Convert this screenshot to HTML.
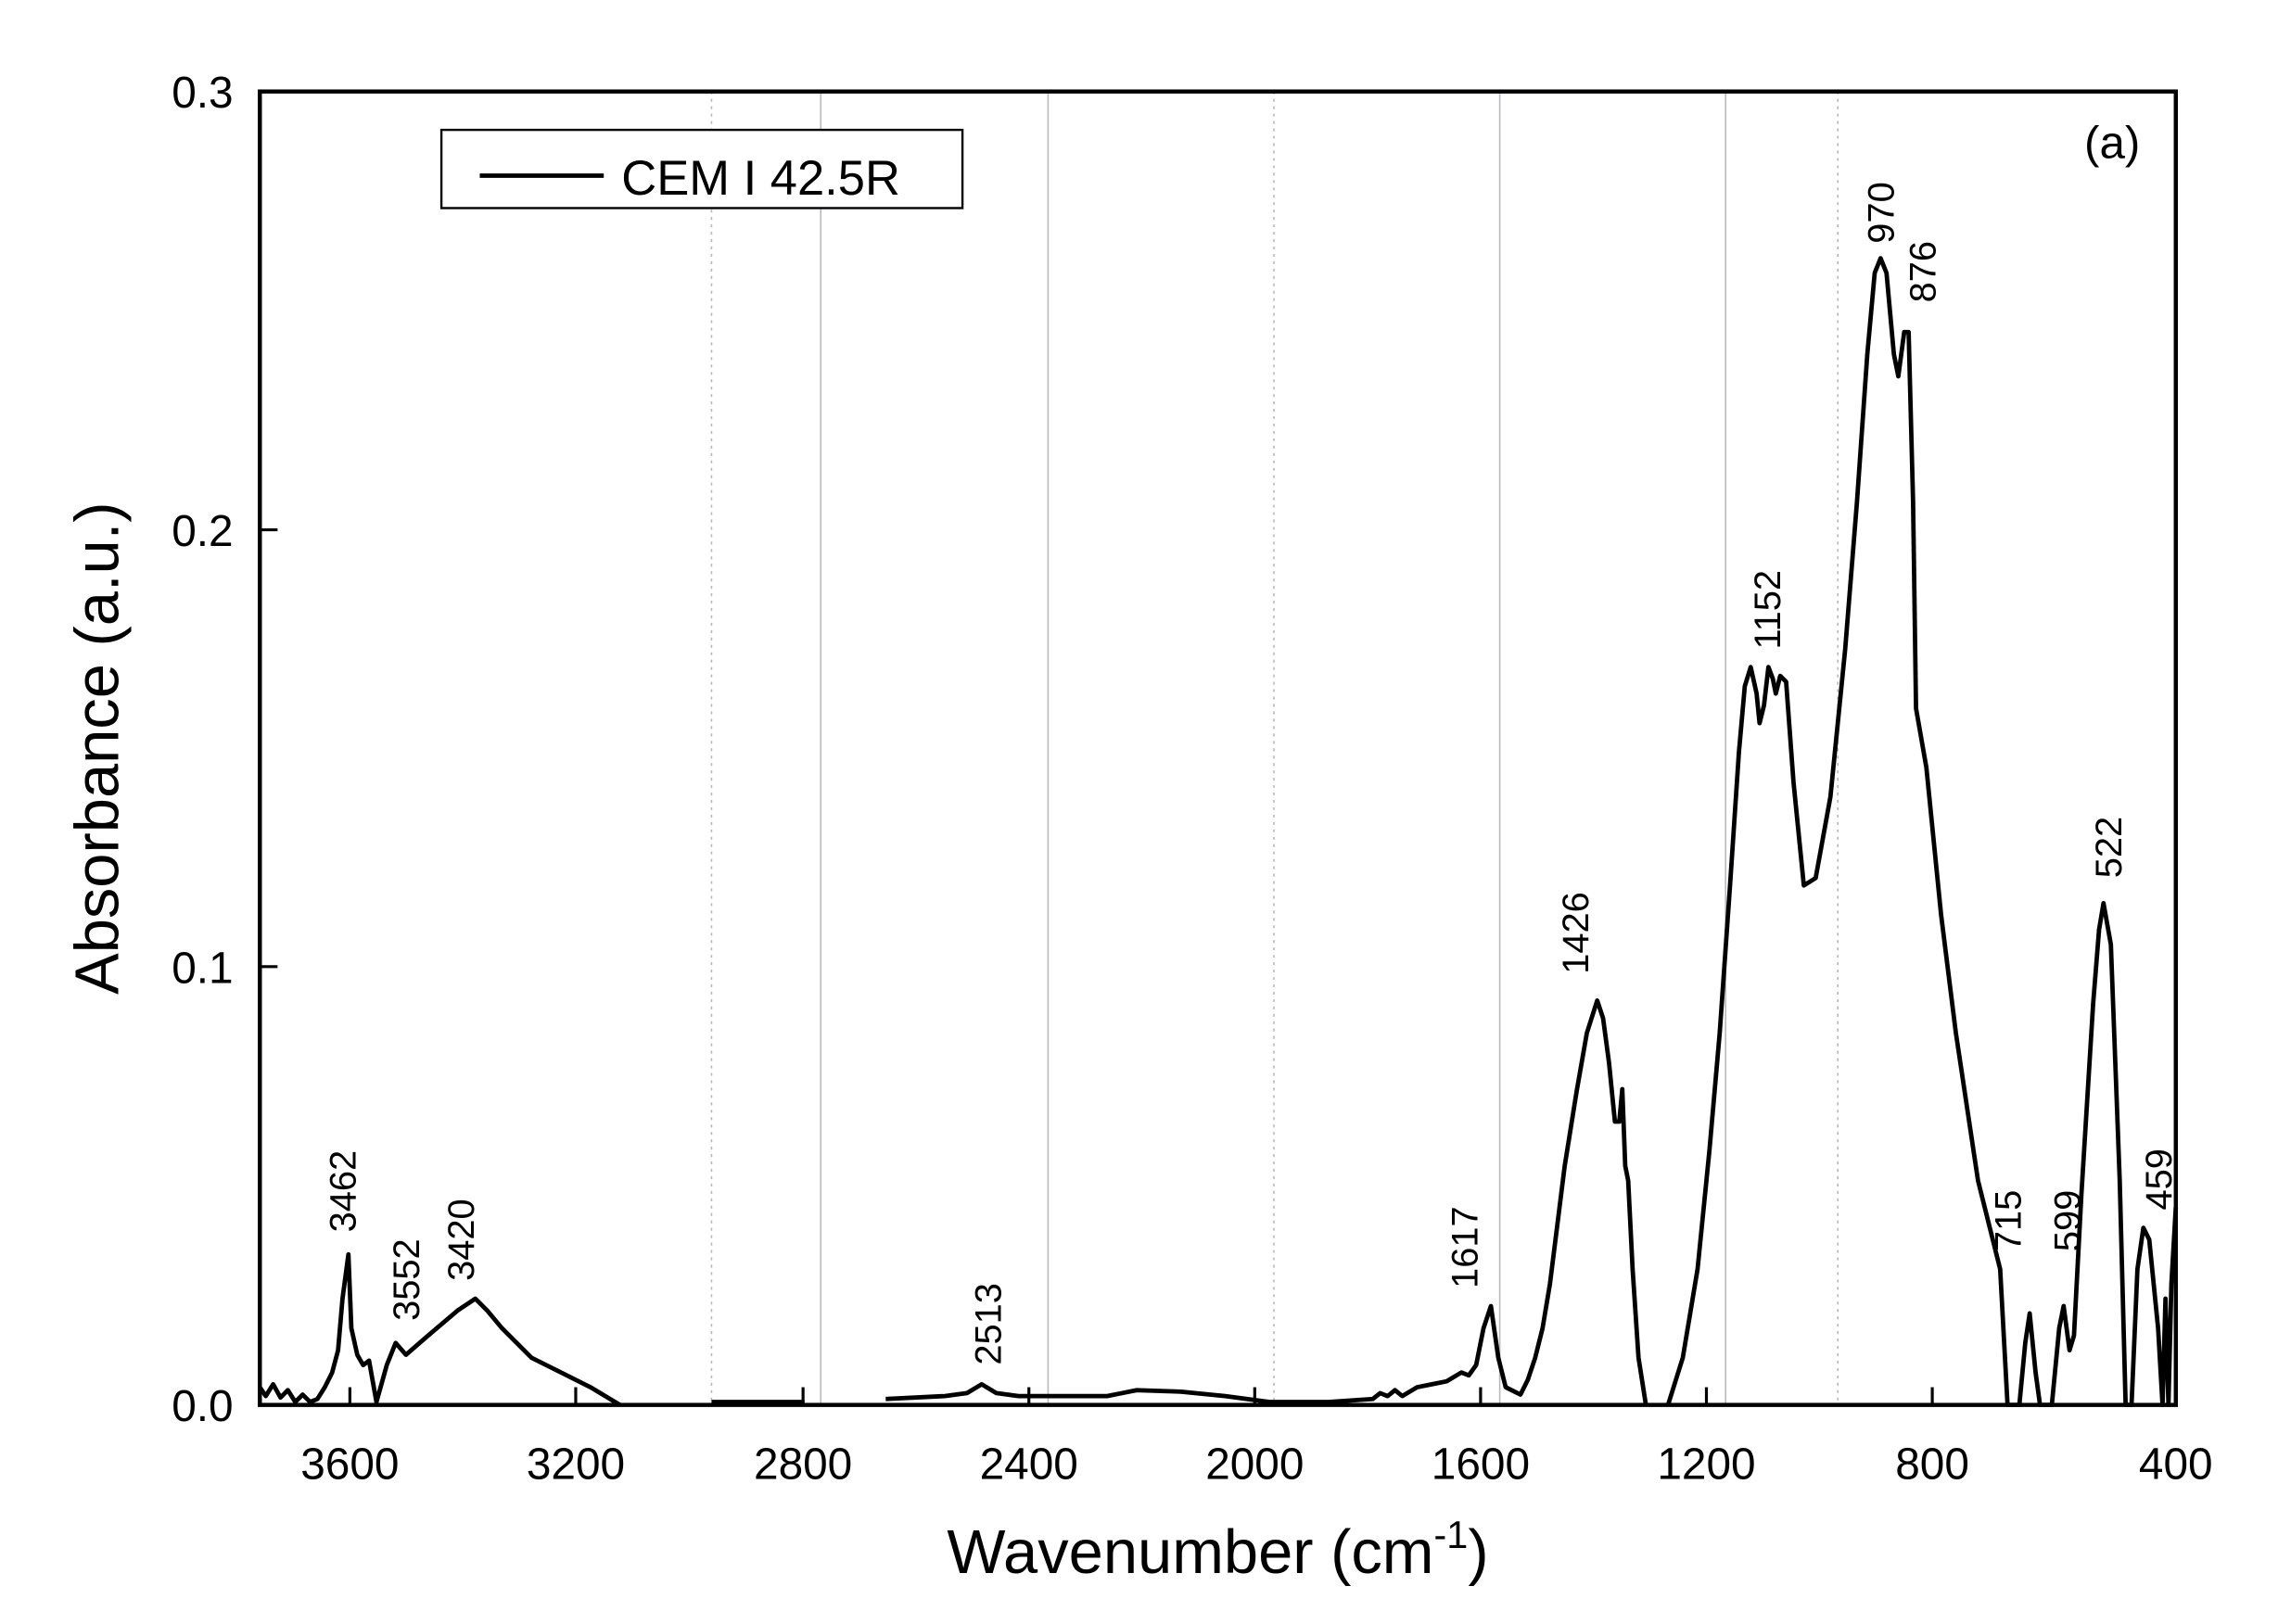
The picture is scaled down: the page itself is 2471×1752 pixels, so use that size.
<!DOCTYPE html>
<html><head><meta charset="utf-8"><style>html,body{margin:0;padding:0;background:#fff}svg{display:block}</style></head>
<body>
<svg width="2471" height="1752" viewBox="0 0 1552 1100.45" xmlns="http://www.w3.org/2000/svg" font-family="Liberation Sans, Arial, sans-serif">
<rect width="1552" height="1100.45" fill="#fff"/>
<g stroke="#b8b8c0" stroke-width="1">
<line x1="482" y1="62" x2="482" y2="952" stroke-dasharray="2,3"/>
<line x1="556" y1="62" x2="556" y2="952"/>
<line x1="710" y1="62" x2="710" y2="952"/>
<line x1="863" y1="62" x2="863" y2="952" stroke-dasharray="2,3"/>
<line x1="1016" y1="62" x2="1016" y2="952"/>
<line x1="1169" y1="62" x2="1169" y2="952"/>
<line x1="1245" y1="62" x2="1245" y2="952" stroke-dasharray="2,3"/>
</g>
<g fill="none" stroke="#000" stroke-width="3" stroke-linejoin="round">
<polyline points="176,940 180,946 185,938 190,947 195,942 200,950 205,945 210,950 215,948 220,940 225,930 229,915 232,880 236,850 238,900 242,918 246,925 250,922 255,950 262,925 268,910 275,918 290,905 310,888 322,880 330,888 340,900 360,920 380,930 400,940 420,952"/>
<polyline points="482,950 545,950"/>
<polyline points="600,948 640,946 655,944 665,938 675,944 690,946 750,946 760,944 770,942 800,943 830,946 860,950 900,950 930,948 935,944 940,946 945,942 950,946 960,940 970,938 980,936 990,930 995,932 1000,925 1005,900 1010,885 1015,920 1020,940 1030,945 1035,935 1040,920 1045,900 1050,870 1060,790 1068,740 1075,700 1082,678 1086,690 1090,720 1094,760 1097,760 1099,738 1101,790 1103,800 1106,860 1110,920 1115,952"/>
<polyline points="1130,952 1140,920 1150,860 1158,780 1165,700 1172,600 1178,510 1182,465 1186,452 1190,470 1192,490 1195,478 1198,452 1201,460 1203,470 1206,458 1210,462 1215,530 1222,600 1230,595 1240,540 1250,440 1258,340 1265,240 1270,185 1274,175 1278,185 1283,240 1286,255 1290,225 1293,225 1296,340 1298,480 1305,520 1315,620 1325,700 1340,800 1355,860 1360,952 1368,952 1372,910 1375,890 1379,930 1382,952 1390,952 1395,900 1398,885 1402,915 1405,905 1410,810 1418,680 1422,630 1425,612 1430,640 1436,800 1440,952 1444,952 1448,860 1452,832 1456,840 1462,900 1465,952 1467,880 1469,952 1471,870 1474,818"/>
</g>
<rect x="176" y="62" width="1298" height="890" fill="none" stroke="#000" stroke-width="2.8"/>
<g stroke="#000" stroke-width="2">
<line x1="237" y1="952" x2="237" y2="940"/><line x1="390" y1="952" x2="390" y2="940"/>
<line x1="544" y1="952" x2="544" y2="940"/><line x1="697" y1="952" x2="697" y2="940"/>
<line x1="850" y1="952" x2="850" y2="940"/><line x1="1003" y1="952" x2="1003" y2="940"/>
<line x1="1156" y1="952" x2="1156" y2="940"/><line x1="1309" y1="952" x2="1309" y2="940"/>
<line x1="176" y1="655" x2="188" y2="655"/><line x1="176" y1="359" x2="188" y2="359"/>
</g>
<g font-size="30" text-anchor="middle" fill="#000">
<text x="237" y="1002">3600</text><text x="390" y="1002">3200</text><text x="544" y="1002">2800</text>
<text x="697" y="1002">2400</text><text x="850" y="1002">2000</text><text x="1003" y="1002">1600</text>
<text x="1156" y="1002">1200</text><text x="1309" y="1002">800</text><text x="1474" y="1002">400</text>
</g>
<g font-size="30" text-anchor="end">
<text x="158" y="963">0.0</text><text x="158" y="666">0.1</text><text x="158" y="370">0.2</text><text x="158" y="73">0.3</text>
</g>
<text x="825" y="1066" font-size="42" text-anchor="middle">Wavenumber (cm<tspan font-size="26" dy="-17">-1</tspan><tspan dy="17">)</tspan></text>
<text transform="translate(80,507) rotate(-90)" font-size="42" text-anchor="middle">Absorbance (a.u.)</text>
<rect x="299" y="88" width="353" height="53" fill="#fff" stroke="#000" stroke-width="1.5"/>
<line x1="325" y1="119" x2="409" y2="119" stroke="#000" stroke-width="3"/>
<text x="421" y="132" font-size="33">CEM I 42.5R</text>
<text x="1412" y="107" font-size="31">(a)</text>
<g font-size="25">
<text transform="translate(241,835) rotate(-90)">3462</text>
<text transform="translate(284,895) rotate(-90)">3552</text>
<text transform="translate(321,868) rotate(-90)">3420</text>
<text transform="translate(678,925) rotate(-90)">2513</text>
<text transform="translate(1001,873) rotate(-90)">1617</text>
<text transform="translate(1076,660) rotate(-90)">1426</text>
<text transform="translate(1206,440) rotate(-90)">1152</text>
<text transform="translate(1283,165) rotate(-90)">970</text>
<text transform="translate(1311,205) rotate(-90)">876</text>
<text transform="translate(1369,848) rotate(-90)">715</text>
<text transform="translate(1409,848) rotate(-90)">599</text>
<text transform="translate(1437,595) rotate(-90)">522</text>
<text transform="translate(1471,820) rotate(-90)">459</text>
</g>
</svg>
</body></html>
